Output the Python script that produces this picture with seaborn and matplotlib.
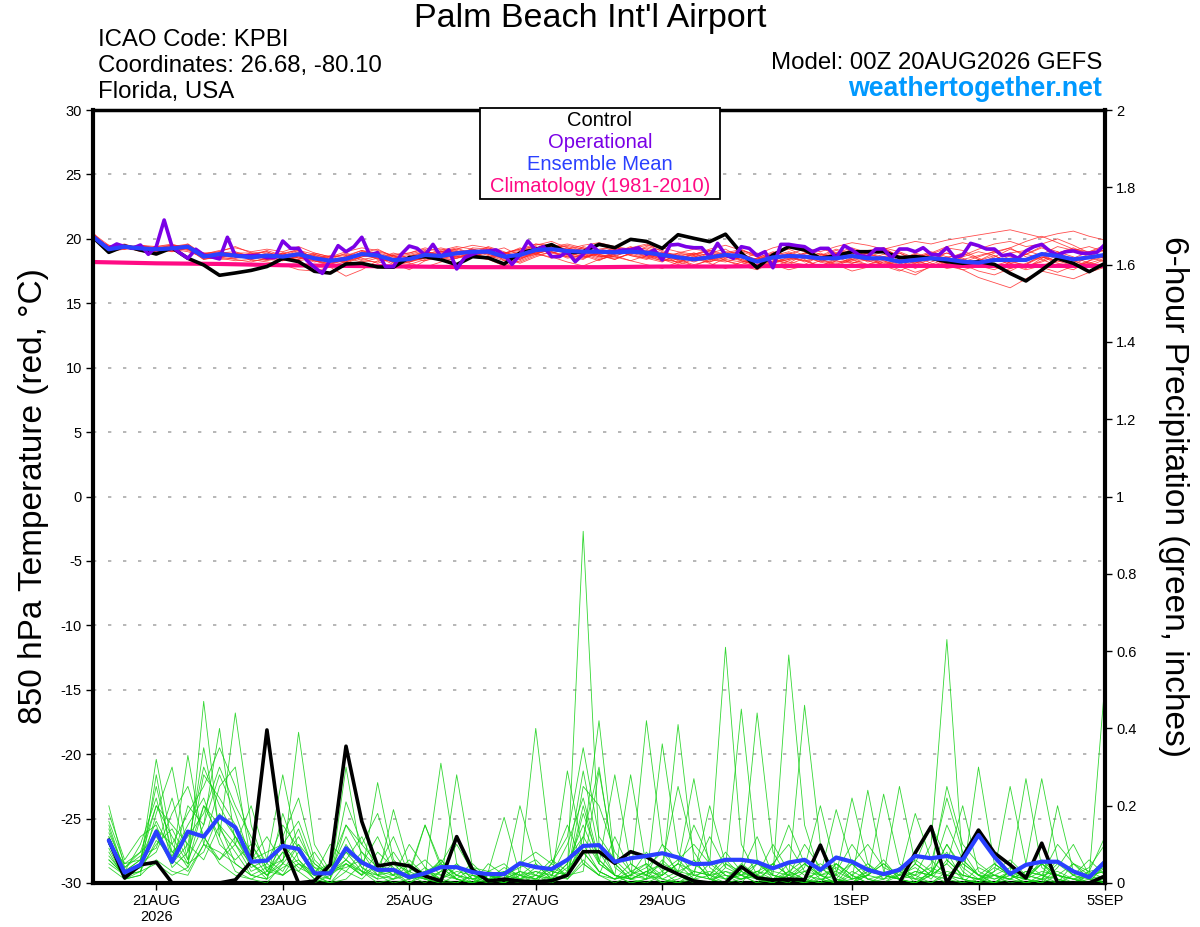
import numpy as np
import pandas as pd
import matplotlib
matplotlib.use('Agg')
import matplotlib.pyplot as plt
import seaborn as sns
from matplotlib.patches import Rectangle

# ---- data (6-hourly from 20AUG2026 00Z, x in days) ----
tick_days = [1, 3, 5, 7, 9, 12, 14, 16]
tick_labels = ['21AUG\n2026', '23AUG', '25AUG', '27AUG', '29AUG', '1SEP', '3SEP', '5SEP']

# climatology, one value per day
clim_temp = [18.2, 18.1, 18.05, 17.95, 17.9, 17.85, 17.8, 17.8, 17.8,
             17.85, 17.85, 17.9, 17.9, 17.9, 17.9, 17.9, 17.9]

control_temp = [20.12, 18.95, 19.44, 19.13, 18.82, 19.3, 18.49, 17.97, 17.17, 17.35,
                17.55, 17.85, 18.48, 18.23, 17.48, 17.34, 18.05, 18.1, 17.82, 17.8,
                18.55, 18.62, 18.38, 18.0, 18.62, 18.52, 18.05, 18.9, 19.18, 19.55,
                18.92, 19.0, 19.57, 19.31, 19.96, 19.8, 19.26, 20.32, 20.04, 19.78,
                20.36, 18.9, 17.75, 18.75, 19.39, 19.14, 18.49, 18.69, 19.0, 19.0,
                19.0, 18.54, 18.62, 18.49, 18.23, 18.1, 18.23, 18.02, 17.32, 16.73,
                17.58, 18.49, 18.1, 17.45, 18.1]

mean_temp = [20.17, 19.19, 19.39, 19.26, 19.19, 19.26, 19.39, 18.62, 18.82, 18.7,
             18.56, 18.7, 18.62, 18.8, 18.49, 18.3, 18.45, 18.82, 18.7, 18.35,
             18.43, 18.75, 18.67, 18.88, 19.0, 19.0, 18.62, 18.75, 19.13, 19.2,
             19.05, 19.0, 19.0, 18.95, 19.0, 18.93, 18.75, 18.56, 18.41, 18.56,
             18.75, 18.65, 18.23, 18.56, 18.67, 18.62, 18.49, 18.49, 18.67, 18.49,
             18.49, 18.23, 18.36, 18.49, 18.41, 18.23, 18.15, 18.36, 18.36, 18.36,
             18.82, 18.67, 18.41, 18.56, 18.75]

# operational run is 3-hourly
oper_temp = [20.17, 19.7, 19.26, 19.6, 19.39, 19.26, 19.52, 18.8, 19.39, 21.46,
             19.39, 18.9, 18.49, 19.19, 18.75, 18.6, 18.44, 20.12, 18.69, 18.68,
             18.69, 18.72, 18.54, 18.55, 19.83, 19.26, 19.26, 18.36, 17.8, 17.32,
             18.36, 19.47, 19.0, 19.39, 20.12, 18.75, 18.93, 17.84, 17.84, 18.8,
             19.44, 19.26, 18.75, 19.57, 18.62, 19.14, 17.66, 18.54, 18.8, 19.0,
             19.05, 19.14, 18.75, 18.02, 18.75, 19.83, 19.14, 19.39, 18.62, 18.62,
             19.0, 18.23, 18.8, 19.52, 19.0, 19.0, 19.0, 19.14, 19.14, 19.31,
             18.8, 19.14, 18.36, 19.52, 19.57, 19.39, 19.31, 19.31, 18.62, 19.65,
             18.75, 18.49, 19.39, 19.26, 18.7, 19.0, 17.76, 19.57, 19.57, 19.47,
             19.39, 19.0, 19.26, 19.26, 18.54, 19.47, 19.14, 18.69, 18.62, 19.21,
             19.21, 18.49, 19.21, 19.21, 19.0, 19.31, 18.8, 18.75, 19.31, 18.54,
             18.75, 19.65, 19.47, 19.21, 19.21, 18.69, 18.8, 18.49, 19.06, 19.39,
             19.57, 19.06, 18.75, 19.0, 19.06, 18.88, 18.88, 18.96, 19.57]

temp_members = [
    [20.4, 19.5, 19.3, 19.1, 19.4, 19.6, 19.2, 18.9, 18.6, 18.4, 18.2, 18.5, 18.9, 19.1, 18.8, 18.4, 18.1, 18.6, 19.0, 18.7, 18.2, 18.5, 19.1, 19.4, 19.2, 18.8, 18.4, 18.9, 19.5, 19.8, 19.3, 18.9, 18.5, 18.8, 19.3, 19.6, 19.0, 18.4, 18.0, 18.3, 18.9, 19.2, 18.6, 18.1, 18.4, 18.9, 19.3, 18.8, 18.2, 18.0, 18.5, 18.9, 18.4, 17.9, 18.1, 18.6, 19.0, 18.7, 18.1, 17.8, 18.3, 18.9, 19.2, 18.8, 18.5],
    [20.1, 19.0, 19.5, 19.4, 19.0, 19.1, 19.6, 18.8, 19.0, 19.4, 18.9, 18.4, 18.3, 18.7, 18.3, 17.9, 18.2, 19.0, 18.9, 18.1, 17.6, 18.3, 18.8, 18.5, 18.9, 19.4, 19.0, 18.5, 18.8, 19.3, 19.5, 19.2, 18.7, 18.4, 18.9, 19.4, 19.1, 18.6, 17.8, 17.9, 18.5, 18.8, 18.4, 18.9, 19.4, 19.0, 18.4, 18.0, 18.5, 19.1, 19.3, 18.6, 18.0, 18.4, 18.9, 18.5, 17.9, 17.6, 18.2, 18.8, 19.4, 19.0, 18.3, 17.9, 18.4],
    [20.3, 19.3, 19.2, 19.5, 19.3, 19.0, 19.3, 18.5, 18.5, 18.9, 18.4, 18.8, 18.6, 18.4, 18.9, 18.6, 18.8, 18.3, 18.2, 18.8, 18.9, 19.2, 18.4, 18.6, 19.3, 19.2, 18.3, 18.2, 18.7, 19.0, 18.6, 18.4, 19.1, 19.4, 18.8, 18.5, 18.2, 18.9, 19.2, 19.0, 18.3, 17.9, 17.6, 18.2, 18.9, 18.4, 17.8, 18.3, 19.0, 18.7, 17.9, 17.5, 18.1, 18.8, 18.4, 17.8, 18.3, 18.9, 19.3, 18.6, 18.4, 17.9, 17.6, 18.3, 18.9],
    [20.0, 19.4, 19.6, 19.2, 19.1, 19.4, 19.5, 18.7, 18.9, 18.6, 18.8, 19.0, 18.5, 18.9, 18.6, 18.1, 18.3, 19.0, 18.5, 18.2, 18.5, 18.9, 19.0, 19.3, 18.8, 18.5, 18.9, 19.2, 19.4, 18.9, 18.6, 19.0, 19.5, 19.2, 18.7, 18.4, 18.8, 18.1, 18.7, 19.1, 18.6, 18.3, 17.9, 18.6, 18.2, 18.0, 18.7, 19.2, 18.8, 18.2, 18.6, 18.9, 18.3, 18.8, 19.3, 19.1, 18.5, 18.0, 17.7, 18.0, 18.8, 19.4, 19.1, 18.6, 18.2],
    [20.5, 19.1, 19.3, 19.2, 19.3, 19.5, 19.2, 18.4, 18.7, 18.8, 18.5, 18.6, 18.8, 19.2, 18.4, 18.0, 18.7, 19.1, 18.6, 18.0, 18.2, 18.6, 18.5, 18.7, 19.2, 19.0, 18.7, 18.4, 19.0, 19.4, 19.6, 19.3, 18.8, 18.6, 19.2, 19.0, 18.5, 18.9, 18.7, 18.2, 18.8, 19.1, 18.7, 18.4, 18.0, 18.5, 18.9, 18.4, 18.7, 18.3, 18.0, 18.4, 18.8, 18.5, 17.9, 17.6, 17.9, 18.4, 18.9, 19.1, 18.7, 18.2, 18.5, 19.0, 19.3],
    [20.2, 19.3, 19.4, 19.0, 19.2, 19.2, 19.0, 18.6, 18.4, 18.5, 18.6, 18.9, 18.4, 18.6, 18.2, 18.4, 18.9, 18.5, 18.1, 18.5, 18.7, 19.0, 19.3, 19.0, 18.7, 19.1, 18.8, 19.0, 19.6, 19.3, 18.9, 18.6, 18.8, 18.4, 18.9, 19.3, 18.9, 18.3, 18.6, 18.9, 19.2, 18.5, 17.8, 18.3, 18.8, 19.2, 18.8, 18.3, 18.1, 18.6, 19.0, 18.3, 17.7, 18.2, 18.6, 18.1, 17.8, 18.5, 18.0, 17.6, 17.9, 18.4, 18.0, 18.6, 19.2],
    [20.4, 19.2, 19.3, 19.5, 19.4, 19.1, 19.4, 18.8, 18.9, 18.6, 18.9, 18.7, 18.3, 18.9, 18.7, 18.2, 18.4, 18.9, 19.2, 18.6, 18.3, 18.5, 18.9, 19.1, 18.6, 18.4, 18.8, 19.3, 18.9, 18.5, 18.8, 19.4, 19.1, 18.6, 18.3, 18.7, 18.9, 18.6, 18.2, 18.6, 19.0, 18.9, 18.3, 18.9, 19.2, 18.7, 18.3, 18.9, 19.3, 18.9, 18.4, 18.0, 18.6, 19.0, 18.6, 18.7, 19.2, 19.6, 19.8, 19.4, 19.6, 20.0, 19.5, 18.9, 19.1],
    [20.1, 19.4, 19.5, 19.3, 19.0, 19.3, 19.3, 18.5, 18.6, 18.9, 18.3, 18.4, 18.9, 18.5, 18.8, 18.5, 18.2, 18.6, 18.8, 18.3, 18.6, 18.9, 18.3, 18.5, 18.9, 19.2, 18.6, 18.1, 18.6, 19.0, 18.7, 18.5, 18.9, 19.3, 19.1, 18.6, 18.3, 18.7, 18.9, 18.4, 18.3, 18.0, 18.5, 19.0, 18.7, 18.2, 18.6, 19.1, 18.7, 18.9, 19.2, 18.7, 18.2, 18.0, 18.5, 18.9, 18.4, 17.9, 18.3, 17.9, 18.2, 18.7, 19.1, 19.4, 19.0],
    [20.3, 19.0, 19.2, 19.4, 19.3, 19.4, 19.6, 18.7, 18.8, 18.7, 18.7, 19.1, 18.7, 18.3, 18.5, 18.7, 18.5, 18.2, 18.5, 18.9, 18.5, 18.3, 18.6, 19.0, 19.1, 18.7, 18.3, 18.8, 19.2, 18.9, 19.2, 18.8, 18.4, 18.7, 19.0, 18.8, 18.4, 18.0, 18.4, 18.9, 18.7, 18.4, 18.9, 18.4, 18.1, 18.8, 19.3, 18.9, 18.4, 18.0, 18.3, 17.8, 18.5, 18.9, 18.4, 17.9, 18.3, 18.7, 18.1, 17.7, 18.5, 19.0, 18.6, 18.1, 17.9],
    [20.2, 19.2, 19.5, 19.3, 19.1, 19.3, 19.1, 18.6, 18.9, 19.0, 18.6, 18.3, 18.6, 19.0, 18.6, 18.3, 18.6, 18.9, 18.4, 18.4, 18.2, 18.7, 19.2, 18.9, 18.6, 19.0, 19.3, 18.7, 18.9, 19.4, 19.4, 19.1, 18.6, 18.9, 19.3, 19.2, 18.6, 18.4, 18.9, 18.7, 18.5, 18.7, 18.1, 18.7, 19.0, 18.6, 18.2, 18.7, 19.2, 18.8, 18.6, 18.3, 18.9, 18.5, 18.2, 18.4, 18.7, 19.0, 18.4, 18.8, 19.3, 18.8, 18.3, 18.7, 19.4],
    [20.4, 19.3, 19.3, 19.1, 19.2, 19.5, 19.3, 18.8, 18.7, 18.5, 18.8, 18.6, 18.3, 18.7, 18.4, 18.3, 18.2, 18.7, 18.9, 18.2, 18.0, 18.4, 18.8, 18.6, 18.9, 19.3, 18.9, 18.6, 19.3, 19.6, 19.1, 18.7, 18.3, 18.9, 19.4, 18.9, 18.5, 18.2, 17.9, 18.4, 18.8, 18.4, 17.9, 18.1, 18.6, 18.3, 17.9, 18.4, 18.9, 18.5, 18.0, 18.2, 18.7, 18.1, 17.7, 17.9, 18.4, 17.8, 17.5, 18.1, 18.6, 18.1, 17.9, 18.3, 18.6],
    [20.0, 19.5, 19.4, 19.4, 19.2, 19.2, 19.4, 18.9, 19.0, 18.8, 18.5, 18.8, 18.9, 18.5, 18.3, 18.1, 18.6, 19.1, 18.9, 18.6, 18.8, 19.1, 18.6, 18.9, 19.2, 18.8, 18.5, 19.0, 19.3, 19.0, 18.5, 18.7, 19.2, 19.4, 18.9, 18.6, 18.9, 18.8, 18.5, 18.2, 18.6, 19.0, 18.6, 18.2, 18.5, 18.9, 18.6, 18.2, 18.4, 18.9, 19.3, 19.0, 18.5, 18.9, 19.4, 19.7, 19.4, 19.0, 19.3, 19.8, 20.2, 19.7, 19.2, 19.0, 19.5],
    [20.3, 19.1, 19.4, 19.3, 19.3, 19.2, 19.2, 18.6, 18.8, 18.6, 18.7, 18.5, 18.7, 19.1, 18.5, 18.6, 18.7, 18.4, 18.6, 18.7, 18.5, 18.8, 18.4, 18.8, 19.0, 18.9, 18.7, 18.4, 18.9, 19.1, 18.9, 19.3, 18.7, 18.5, 18.8, 19.1, 18.7, 18.5, 18.8, 18.4, 18.2, 18.6, 18.3, 17.8, 18.3, 18.7, 18.2, 17.9, 18.4, 18.6, 18.1, 17.6, 17.2, 17.9, 18.3, 18.0, 17.5, 17.2, 17.7, 18.0, 17.8, 17.4, 17.9, 18.2, 17.7],
    [20.2, 19.3, 19.3, 19.2, 19.0, 19.4, 19.5, 18.7, 18.6, 18.9, 18.9, 19.0, 18.5, 18.4, 18.7, 18.4, 18.3, 18.8, 18.7, 18.5, 18.4, 18.6, 19.0, 19.2, 18.8, 18.6, 18.9, 19.1, 18.8, 19.2, 19.0, 18.6, 19.0, 19.2, 18.7, 18.5, 18.9, 18.7, 18.3, 18.7, 18.9, 18.3, 18.0, 18.6, 18.9, 18.5, 18.8, 18.6, 18.1, 18.4, 18.8, 18.5, 18.1, 18.6, 18.9, 18.4, 18.1, 18.6, 19.2, 18.8, 18.5, 18.9, 19.3, 18.8, 18.5],
    [20.1, 19.2, 19.4, 19.4, 19.3, 19.1, 19.4, 18.5, 18.9, 18.8, 18.5, 18.7, 18.8, 18.6, 18.4, 18.2, 18.6, 18.9, 18.8, 18.3, 18.6, 19.0, 18.7, 18.6, 18.8, 19.1, 18.5, 18.5, 19.0, 19.3, 18.8, 18.5, 18.9, 19.1, 19.0, 18.7, 18.3, 18.4, 18.8, 19.1, 18.8, 18.6, 18.4, 18.8, 18.5, 18.3, 18.6, 18.9, 18.7, 18.3, 18.6, 18.1, 18.4, 18.8, 18.5, 18.2, 18.6, 19.0, 18.6, 18.3, 18.9, 18.5, 18.2, 18.5, 18.8],
    [20.3, 19.4, 19.2, 19.3, 19.1, 19.3, 19.2, 18.6, 18.5, 18.3, 18.4, 18.2, 18.0, 17.6, 17.5, 17.8, 17.1, 17.6, 18.3, 18.4, 18.1, 17.8, 18.2, 18.5, 18.7, 18.4, 17.9, 18.3, 18.8, 18.6, 18.2, 17.9, 18.4, 18.7, 18.3, 18.0, 17.7, 18.2, 18.5, 18.1, 17.7, 18.2, 18.5, 18.0, 17.6, 17.9, 18.3, 18.0, 17.5, 17.8, 18.2, 17.9, 17.4, 17.8, 18.1, 17.6, 17.0, 16.6, 16.2, 16.9, 17.5, 17.2, 16.9, 17.4, 17.8],
    [20.4, 19.3, 19.5, 19.2, 19.4, 19.5, 19.4, 18.8, 19.1, 19.3, 19.0, 19.2, 19.0, 19.4, 18.9, 18.6, 19.0, 19.3, 19.1, 18.7, 18.9, 19.3, 19.0, 19.2, 19.5, 19.3, 18.9, 19.2, 19.6, 19.5, 19.2, 19.5, 19.7, 19.4, 19.2, 19.5, 19.3, 19.0, 18.8, 19.2, 19.5, 19.1, 18.8, 19.3, 19.6, 19.3, 19.0, 19.4, 19.7, 19.5, 19.2, 19.5, 19.8, 19.6, 19.9, 20.1, 20.3, 20.5, 20.7, 20.4, 20.1, 20.4, 20.6, 20.2, 19.9],
    [20.2, 19.1, 19.3, 19.5, 19.2, 19.0, 19.3, 18.4, 18.6, 18.9, 18.7, 18.4, 18.7, 18.9, 18.3, 18.0, 18.4, 18.7, 18.5, 18.2, 18.3, 18.6, 18.9, 19.0, 18.7, 18.9, 18.7, 18.6, 18.9, 19.1, 19.3, 19.0, 18.6, 18.8, 19.1, 18.8, 18.4, 18.2, 18.6, 18.5, 18.4, 18.2, 17.8, 18.2, 18.4, 18.6, 18.4, 18.1, 18.3, 18.6, 18.3, 17.9, 18.2, 18.4, 18.1, 17.9, 18.2, 18.5, 18.2, 18.0, 18.6, 18.3, 17.9, 18.1, 18.5],
]

# 6-hour precipitation, first value valid 20AUG 06Z
control_precip = [0.111, 0.013, 0.047, 0.054, 0.0, 0.0, 0.0, 0.0, 0.008, 0.055,
                  0.396, 0.10, 0.0, 0.005, 0.047, 0.354, 0.159, 0.044, 0.051, 0.044,
                  0.018, 0.005, 0.12, 0.034, 0.005, 0.01, 0.005, 0.003, 0.006, 0.02,
                  0.081, 0.081, 0.051, 0.081, 0.068, 0.042, 0.023, 0.005, 0.0, 0.0,
                  0.042, 0.013, 0.008, 0.01, 0.008, 0.098, 0.0, 0.0, 0.0, 0.0,
                  0.0, 0.078, 0.146, 0.0, 0.068, 0.137, 0.078, 0.047, 0.013, 0.103,
                  0.0, 0.0, 0.0, 0.018]

mean_precip = [0.11, 0.027, 0.047, 0.133, 0.055, 0.133, 0.12, 0.172, 0.144, 0.055,
               0.058, 0.096, 0.088, 0.025, 0.025, 0.09, 0.053, 0.034, 0.034, 0.015,
               0.025, 0.041, 0.041, 0.028, 0.023, 0.023, 0.051, 0.041, 0.036, 0.06,
               0.096, 0.098, 0.055, 0.064, 0.07, 0.077, 0.066, 0.049, 0.05, 0.06,
               0.06, 0.054, 0.038, 0.053, 0.06, 0.034, 0.066, 0.055, 0.034, 0.023,
               0.034, 0.07, 0.064, 0.07, 0.06, 0.124, 0.068, 0.023, 0.047, 0.055,
               0.055, 0.03, 0.015, 0.055]

precip_members = [
    [0.12, 0.02, 0.05, 0.32, 0.10, 0.04, 0.47, 0.12, 0.03, 0.01, 0.00, 0.05, 0.10, 0.02, 0.00, 0.03, 0.08, 0.02, 0.00, 0.01, 0.04, 0.00, 0.00, 0.02, 0.00, 0.01, 0.05, 0.02, 0.00, 0.03, 0.91, 0.10, 0.02, 0.00, 0.01, 0.06, 0.02, 0.00, 0.00, 0.04, 0.02, 0.00, 0.05, 0.10, 0.03, 0.00, 0.01, 0.00, 0.02, 0.06, 0.01, 0.00, 0.03, 0.08, 0.01, 0.00, 0.00, 0.03, 0.01, 0.05, 0.02, 0.00, 0.01, 0.04],
    [0.20, 0.04, 0.08, 0.12, 0.05, 0.20, 0.15, 0.40, 0.10, 0.05, 0.02, 0.08, 0.03, 0.00, 0.02, 0.06, 0.03, 0.00, 0.01, 0.05, 0.02, 0.31, 0.05, 0.01, 0.02, 0.00, 0.03, 0.40, 0.06, 0.01, 0.05, 0.02, 0.00, 0.02, 0.08, 0.03, 0.00, 0.01, 0.05, 0.61, 0.10, 0.02, 0.00, 0.03, 0.01, 0.00, 0.05, 0.02, 0.00, 0.01, 0.04, 0.00, 0.02, 0.10, 0.03, 0.00, 0.05, 0.02, 0.00, 0.01, 0.06, 0.02, 0.00, 0.01],
    [0.08, 0.01, 0.03, 0.18, 0.30, 0.08, 0.20, 0.12, 0.44, 0.15, 0.03, 0.10, 0.05, 0.02, 0.00, 0.01, 0.05, 0.12, 0.03, 0.00, 0.02, 0.06, 0.01, 0.00, 0.03, 0.17, 0.02, 0.00, 0.05, 0.02, 0.10, 0.42, 0.05, 0.01, 0.03, 0.00, 0.02, 0.06, 0.01, 0.00, 0.03, 0.12, 0.02, 0.59, 0.15, 0.02, 0.00, 0.05, 0.01, 0.00, 0.03, 0.02, 0.10, 0.63, 0.05, 0.02, 0.00, 0.03, 0.02, 0.05, 0.01, 0.00, 0.02, 0.06],
    [0.15, 0.03, 0.10, 0.22, 0.05, 0.33, 0.10, 0.06, 0.12, 0.04, 0.06, 0.28, 0.08, 0.02, 0.05, 0.03, 0.01, 0.05, 0.02, 0.00, 0.03, 0.01, 0.04, 0.00, 0.02, 0.01, 0.20, 0.05, 0.01, 0.29, 0.08, 0.03, 0.01, 0.02, 0.05, 0.01, 0.00, 0.03, 0.12, 0.04, 0.45, 0.06, 0.02, 0.01, 0.00, 0.04, 0.01, 0.00, 0.02, 0.05, 0.01, 0.00, 0.03, 0.02, 0.01, 0.30, 0.05, 0.02, 0.01, 0.00, 0.04, 0.10, 0.02, 0.00],
    [0.05, 0.02, 0.04, 0.10, 0.14, 0.06, 0.28, 0.22, 0.15, 0.08, 0.02, 0.05, 0.39, 0.10, 0.03, 0.05, 0.02, 0.26, 0.06, 0.02, 0.00, 0.03, 0.01, 0.00, 0.05, 0.02, 0.01, 0.03, 0.02, 0.06, 0.12, 0.05, 0.28, 0.05, 0.02, 0.00, 0.01, 0.03, 0.02, 0.08, 0.03, 0.01, 0.00, 0.02, 0.46, 0.10, 0.02, 0.00, 0.04, 0.02, 0.01, 0.05, 0.02, 0.00, 0.06, 0.02, 0.00, 0.01, 0.03, 0.02, 0.00, 0.05, 0.02, 0.52],
    [0.10, 0.05, 0.06, 0.16, 0.08, 0.12, 0.18, 0.30, 0.20, 0.12, 0.05, 0.02, 0.08, 0.04, 0.01, 0.21, 0.10, 0.05, 0.02, 0.03, 0.01, 0.00, 0.28, 0.04, 0.01, 0.00, 0.02, 0.05, 0.01, 0.02, 0.03, 0.29, 0.05, 0.01, 0.42, 0.10, 0.02, 0.01, 0.00, 0.03, 0.02, 0.06, 0.01, 0.00, 0.03, 0.02, 0.19, 0.05, 0.01, 0.00, 0.02, 0.04, 0.01, 0.06, 0.02, 0.01, 0.00, 0.03, 0.27, 0.04, 0.01, 0.00, 0.02, 0.03],
    [0.04, 0.01, 0.02, 0.28, 0.06, 0.03, 0.10, 0.25, 0.30, 0.05, 0.01, 0.12, 0.22, 0.06, 0.02, 0.08, 0.03, 0.01, 0.19, 0.04, 0.01, 0.00, 0.02, 0.05, 0.01, 0.02, 0.00, 0.01, 0.04, 0.02, 0.20, 0.05, 0.02, 0.00, 0.01, 0.36, 0.08, 0.02, 0.01, 0.00, 0.03, 0.44, 0.08, 0.01, 0.00, 0.02, 0.04, 0.01, 0.24, 0.03, 0.01, 0.00, 0.02, 0.01, 0.00, 0.04, 0.02, 0.00, 0.01, 0.05, 0.02, 0.01, 0.00, 0.02],
    [0.14, 0.03, 0.05, 0.08, 0.18, 0.25, 0.12, 0.06, 0.10, 0.03, 0.05, 0.15, 0.09, 0.02, 0.10, 0.06, 0.12, 0.03, 0.01, 0.02, 0.15, 0.05, 0.02, 0.01, 0.00, 0.03, 0.01, 0.02, 0.01, 0.05, 0.29, 0.08, 0.02, 0.01, 0.03, 0.02, 0.41, 0.06, 0.01, 0.02, 0.00, 0.05, 0.02, 0.01, 0.04, 0.20, 0.03, 0.01, 0.02, 0.23, 0.05, 0.01, 0.00, 0.02, 0.01, 0.00, 0.03, 0.25, 0.05, 0.02, 0.01, 0.00, 0.03, 0.01],
    [0.18, 0.06, 0.12, 0.15, 0.04, 0.08, 0.35, 0.14, 0.08, 0.02, 0.04, 0.06, 0.14, 0.03, 0.01, 0.30, 0.06, 0.02, 0.05, 0.01, 0.03, 0.02, 0.05, 0.01, 0.03, 0.05, 0.01, 0.00, 0.02, 0.01, 0.06, 0.02, 0.01, 0.03, 0.05, 0.02, 0.05, 0.27, 0.04, 0.01, 0.02, 0.03, 0.01, 0.05, 0.02, 0.01, 0.00, 0.03, 0.01, 0.02, 0.25, 0.05, 0.02, 0.10, 0.04, 0.01, 0.02, 0.01, 0.05, 0.27, 0.06, 0.02, 0.01, 0.00],
    [0.06, 0.02, 0.03, 0.11, 0.07, 0.15, 0.22, 0.10, 0.06, 0.10, 0.03, 0.02, 0.05, 0.01, 0.03, 0.12, 0.04, 0.02, 0.03, 0.02, 0.01, 0.06, 0.02, 0.00, 0.01, 0.02, 0.04, 0.06, 0.02, 0.10, 0.22, 0.06, 0.02, 0.28, 0.04, 0.01, 0.00, 0.02, 0.03, 0.01, 0.05, 0.02, 0.10, 0.03, 0.01, 0.00, 0.05, 0.02, 0.00, 0.02, 0.01, 0.03, 0.02, 0.05, 0.01, 0.00, 0.02, 0.04, 0.01, 0.00, 0.20, 0.03, 0.01, 0.02],
    [0.11, 0.03, 0.06, 0.20, 0.12, 0.05, 0.08, 0.18, 0.12, 0.06, 0.08, 0.10, 0.16, 0.05, 0.02, 0.15, 0.08, 0.04, 0.12, 0.02, 0.01, 0.03, 0.10, 0.03, 0.02, 0.01, 0.03, 0.01, 0.05, 0.12, 0.35, 0.12, 0.06, 0.02, 0.01, 0.03, 0.06, 0.10, 0.05, 0.02, 0.01, 0.03, 0.05, 0.02, 0.00, 0.01, 0.02, 0.05, 0.10, 0.04, 0.02, 0.01, 0.05, 0.22, 0.08, 0.02, 0.05, 0.02, 0.01, 0.03, 0.02, 0.01, 0.00, 0.02],
    [0.07, 0.02, 0.04, 0.13, 0.05, 0.10, 0.06, 0.15, 0.05, 0.02, 0.01, 0.04, 0.06, 0.01, 0.00, 0.05, 0.02, 0.08, 0.04, 0.01, 0.02, 0.05, 0.12, 0.02, 0.01, 0.04, 0.02, 0.01, 0.00, 0.02, 0.12, 0.30, 0.04, 0.01, 0.03, 0.05, 0.25, 0.08, 0.02, 0.00, 0.01, 0.02, 0.01, 0.03, 0.06, 0.02, 0.01, 0.00, 0.03, 0.02, 0.01, 0.05, 0.15, 0.06, 0.02, 0.01, 0.00, 0.02, 0.01, 0.06, 0.02, 0.01, 0.03, 0.12],
    [0.09, 0.01, 0.02, 0.06, 0.03, 0.02, 0.10, 0.08, 0.05, 0.02, 0.01, 0.18, 0.06, 0.02, 0.01, 0.10, 0.04, 0.01, 0.02, 0.10, 0.04, 0.01, 0.00, 0.02, 0.01, 0.00, 0.02, 0.03, 0.01, 0.05, 0.15, 0.05, 0.02, 0.01, 0.00, 0.02, 0.05, 0.01, 0.02, 0.06, 0.02, 0.01, 0.04, 0.15, 0.05, 0.01, 0.00, 0.01, 0.02, 0.05, 0.02, 0.18, 0.06, 0.02, 0.00, 0.01, 0.04, 0.02, 0.01, 0.00, 0.02, 0.01, 0.00, 0.05],
    [0.13, 0.04, 0.07, 0.09, 0.22, 0.06, 0.15, 0.28, 0.18, 0.06, 0.12, 0.05, 0.03, 0.08, 0.02, 0.05, 0.03, 0.02, 0.01, 0.03, 0.15, 0.04, 0.01, 0.00, 0.02, 0.01, 0.00, 0.02, 0.06, 0.03, 0.10, 0.03, 0.01, 0.05, 0.02, 0.01, 0.03, 0.02, 0.20, 0.05, 0.02, 0.00, 0.01, 0.02, 0.03, 0.05, 0.02, 0.22, 0.05, 0.02, 0.01, 0.03, 0.02, 0.05, 0.20, 0.03, 0.01, 0.02, 0.00, 0.01, 0.05, 0.02, 0.06, 0.02],
    [0.10, 0.02, 0.05, 0.14, 0.10, 0.18, 0.25, 0.35, 0.25, 0.10, 0.04, 0.02, 0.05, 0.03, 0.05, 0.15, 0.10, 0.18, 0.05, 0.03, 0.06, 0.02, 0.01, 0.04, 0.03, 0.02, 0.05, 0.08, 0.05, 0.15, 0.05, 0.02, 0.12, 0.03, 0.01, 0.02, 0.05, 0.03, 0.02, 0.01, 0.02, 0.05, 0.03, 0.02, 0.10, 0.04, 0.01, 0.06, 0.02, 0.01, 0.04, 0.02, 0.00, 0.03, 0.02, 0.01, 0.03, 0.06, 0.02, 0.01, 0.00, 0.02, 0.04, 0.10],
    [0.12, 0.03, 0.06, 0.25, 0.08, 0.05, 0.20, 0.15, 0.10, 0.20, 0.06, 0.03, 0.10, 0.05, 0.02, 0.08, 0.05, 0.03, 0.02, 0.06, 0.02, 0.01, 0.03, 0.02, 0.01, 0.02, 0.01, 0.04, 0.03, 0.02, 0.18, 0.06, 0.02, 0.01, 0.02, 0.05, 0.03, 0.15, 0.06, 0.02, 0.01, 0.03, 0.02, 0.01, 0.05, 0.02, 0.00, 0.02, 0.05, 0.01, 0.02, 0.06, 0.03, 0.25, 0.10, 0.05, 0.02, 0.01, 0.03, 0.02, 0.10, 0.05, 0.01, 0.00],
    [0.06, 0.02, 0.03, 0.05, 0.02, 0.04, 0.12, 0.05, 0.02, 0.01, 0.03, 0.08, 0.04, 0.02, 0.03, 0.06, 0.02, 0.05, 0.03, 0.01, 0.02, 0.04, 0.01, 0.00, 0.02, 0.01, 0.03, 0.02, 0.01, 0.04, 0.08, 0.03, 0.01, 0.02, 0.04, 0.08, 0.03, 0.05, 0.02, 0.03, 0.01, 0.02, 0.05, 0.02, 0.01, 0.03, 0.05, 0.01, 0.03, 0.02, 0.01, 0.02, 0.04, 0.02, 0.05, 0.02, 0.01, 0.03, 0.02, 0.01, 0.02, 0.05, 0.03, 0.04],
    [0.16, 0.05, 0.08, 0.20, 0.15, 0.10, 0.30, 0.20, 0.12, 0.05, 0.02, 0.06, 0.12, 0.04, 0.03, 0.04, 0.06, 0.03, 0.08, 0.02, 0.03, 0.05, 0.02, 0.01, 0.02, 0.03, 0.02, 0.01, 0.03, 0.02, 0.25, 0.20, 0.08, 0.03, 0.02, 0.10, 0.06, 0.02, 0.01, 0.05, 0.03, 0.01, 0.00, 0.02, 0.05, 0.02, 0.03, 0.10, 0.04, 0.02, 0.03, 0.01, 0.02, 0.15, 0.06, 0.02, 0.02, 0.01, 0.00, 0.02, 0.03, 0.01, 0.02, 0.03],
]

# ---- long tables for seaborn ----
t_days = np.arange(65) * 0.25
p_days = np.arange(1, 65) * 0.25
op_days = np.arange(len(oper_temp)) * 0.125
clim_days = np.arange(len(clim_temp))

df_t = pd.DataFrame([(n, t_days[i], v) for n, m in enumerate(temp_members) for i, v in enumerate(m)],
                    columns=['member', 'day', 'temp'])
df_p = pd.DataFrame([(n, p_days[i], v) for n, m in enumerate(precip_members) for i, v in enumerate(m)],
                    columns=['member', 'day', 'precip'])

sns.set_theme(style='white')
plt.rcParams['font.family'] = ['Liberation Sans', 'DejaVu Sans']
plt.rcParams['text.color'] = 'black'
plt.rcParams['xtick.color'] = 'black'
plt.rcParams['ytick.color'] = 'black'
plt.rcParams['axes.labelcolor'] = 'black'

fig = plt.figure(figsize=(12, 9.27), dpi=100)
ax = fig.add_axes([93 / 1200, 1 - 883 / 927, 1012 / 1200, 773 / 927])
ax2 = ax.twinx()

# temperature (left axis)
sns.lineplot(data=df_t, x='day', y='temp', units='member', estimator=None,
             color='#ff2020', lw=0.6, alpha=0.8, ax=ax, legend=False)
sns.lineplot(x=clim_days, y=clim_temp, color='#ff0a84', lw=3, ax=ax)
sns.lineplot(x=t_days, y=control_temp, color='black', lw=2.6, ax=ax)
sns.lineplot(x=op_days, y=oper_temp, color='#7a00e6', lw=2.6, ax=ax)
sns.lineplot(x=t_days, y=mean_temp, color='#2a40ff', lw=3, ax=ax)

# precipitation (right axis)
sns.lineplot(data=df_p, x='day', y='precip', units='member', estimator=None,
             color='#10d010', lw=0.6, alpha=0.85, ax=ax2, legend=False)
sns.lineplot(x=p_days, y=control_precip, color='black', lw=2.6, ax=ax2)
sns.lineplot(x=p_days, y=mean_precip, color='#2a40ff', lw=3, ax=ax2)

ax.set_xlim(0, 16)
ax.set_ylim(-30, 30)
ax2.set_ylim(0, 2)

ax.set_yticks(np.arange(-30, 31, 5))
ax.set_yticklabels([str(v) for v in range(-30, 31, 5)])
ax2.set_yticks(np.arange(0, 2.01, 0.2))
ax2.set_yticklabels([f'{round(v, 1):g}' for v in np.arange(0, 2.01, 0.2)])
ax.set_xticks(tick_days)
ax.set_xticklabels(tick_labels)

ax.set_xlabel('')
ax.set_ylabel('')
ax2.set_ylabel('')

ax.yaxis.grid(True, linestyle=(0, (2, 7)), color='#aaaaaa', lw=1.2)
ax.xaxis.grid(False)
ax2.grid(False)

ax.tick_params(axis='both', direction='out', length=5, width=1,
               labelsize=10.5, left=True, bottom=True, pad=3)
ax2.tick_params(axis='y', direction='out', length=5, width=1,
                labelsize=10.5, right=True, pad=3)

for a in (ax, ax2):
    for s in ('left', 'right', 'bottom', 'top'):
        a.spines[s].set_color('black')
        a.spines[s].set_linewidth(3)
ax.spines['right'].set_visible(False)
ax2.spines['left'].set_visible(False)
ax2.spines['bottom'].set_visible(False)
ax2.spines['top'].set_linewidth(2.5)
ax.spines['top'].set_visible(False)

# axis titles
fig.text(34 / 1200, 1 - 496 / 927, '850 hPa Temperature (red, °C)', rotation=90,
         ha='center', va='center', fontsize=24)
fig.text(1173 / 1200, 1 - 496 / 927, '6-hour Precipitation (green, inches)', rotation=270,
         ha='center', va='center', fontsize=24)

# header
fig.text(590 / 1200, 1 - 18 / 927, "Palm Beach Int'l Airport", ha='center', va='center', fontsize=24.5)
fig.text(98 / 1200, 1 - 40 / 927, 'ICAO Code: KPBI', ha='left', va='center', fontsize=17.3)
fig.text(98 / 1200, 1 - 66 / 927, 'Coordinates: 26.68, -80.10', ha='left', va='center', fontsize=17.3)
fig.text(98 / 1200, 1 - 92 / 927, 'Florida, USA', ha='left', va='center', fontsize=17.3)
fig.text(1102 / 1200, 1 - 63 / 927, 'Model: 00Z 20AUG2026 GEFS', ha='right', va='center', fontsize=17.3)
fig.text(1102 / 1200, 1 - 89 / 927, 'weathertogether.net', ha='right', va='center',
         fontsize=19.3, fontweight='bold', color='#0099ff')

# legend box with coloured text only
leg_labels = ['Control', 'Operational', 'Ensemble Mean', 'Climatology (1981-2010)']
leg_colors = ['black', '#7a00e6', '#2a40ff', '#ff0a84']
leg_rows = [121, 142.5, 164, 186]
fig.add_artist(Rectangle((480 / 1200, 1 - 199 / 927), 240 / 1200, 91 / 927,
                         transform=fig.transFigure, facecolor='white', edgecolor='black',
                         lw=1.3, zorder=5))
for lab, col, yy in zip(leg_labels, leg_colors, leg_rows):
    fig.text(600 / 1200, 1 - yy / 927, lab, color=col, ha='center', va='center',
             fontsize=14.5, zorder=6)

fig.savefig('out.png', dpi=100)
